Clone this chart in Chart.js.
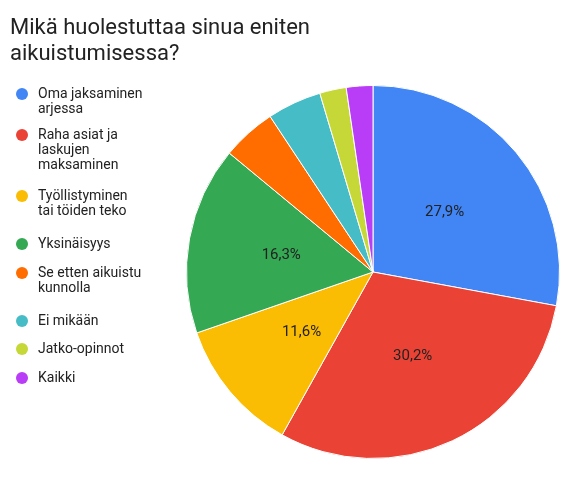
<!DOCTYPE html>
<html><head><meta charset="utf-8">
<script src="https://cdn.jsdelivr.net/npm/chart.js@4"></script>
<style>
body{margin:0;background:#fff;font-family:Roboto,Arial,sans-serif;}
#wrap{position:relative;width:575px;height:478px;}
#title{position:absolute;left:10px;top:14px;font-size:22px;line-height:26px;color:#222;}
#legend{position:absolute;left:14px;top:86px;width:170px;font-size:14px;line-height:15px;color:#222;}
.item{position:absolute;left:0;padding-left:24px;}
.dot{position:absolute;left:2px;top:2px;width:12px;height:12px;border-radius:50%;}
canvas{position:absolute;left:0;top:0;}
</style></head><body>
<div id="wrap">
<canvas id="c" width="575" height="478"></canvas>
<div id="title">Mikä huolestuttaa sinua eniten<br>aikuistumisessa?</div>
<div id="legend"></div>
</div>
<script>
const categories=["Oma jaksaminen arjessa","Raha asiat ja laskujen maksaminen","Työllistyminen tai töiden teko","Yksinäisyys","Se etten aikuistu kunnolla","Ei mikään","Jatko-opinnot","Kaikki"];
const legendLines=[["Oma jaksaminen","arjessa"],["Raha asiat ja","laskujen","maksaminen"],["Työllistyminen","tai töiden teko"],["Yksinäisyys"],["Se etten aikuistu","kunnolla"],["Ei mikään"],["Jatko-opinnot"],["Kaikki"]];
const values=[27.9,30.2,11.6,16.3,4.7,4.7,2.3,2.3];
const colors=["#4285F4","#EA4335","#FBBC04","#34A853","#FF6D01","#46BDC6","#C5D837","#B93CF6"];
const legendTops=[0,41,102,150,179,227,255,284];
const lg=document.getElementById('legend');
legendLines.forEach((l,i)=>{const d=document.createElement('div');d.className='item';d.style.top=legendTops[i]+'px';
d.innerHTML='<span class="dot" style="background:'+colors[i]+'"></span>'+l.join('<br>');lg.appendChild(d);});
const labelPlugin={id:'lbl',afterDatasetsDraw(ch){const ctx=ch.ctx;const meta=ch.getDatasetMeta(0);
ctx.save();ctx.font='15px Roboto, Arial';ctx.fillStyle='#222';ctx.textAlign='center';ctx.textBaseline='middle';
meta.data.forEach((a,i)=>{if(values[i]<10)return;const p=a.tooltipPosition();
const t=values[i].toFixed(1).replace('.',',')+'%';ctx.fillText(t,p.x,p.y);});ctx.restore();}};
new Chart(document.getElementById('c'),{type:'pie',
data:{labels:categories,datasets:[{data:values,backgroundColor:colors,borderColor:'#fff',borderWidth:1}]},
options:{responsive:false,animation:false,layout:{padding:{left:186,right:15,top:85,bottom:19}},
plugins:{legend:{display:false},tooltip:{enabled:false}}},plugins:[labelPlugin]});
</script></body></html>
